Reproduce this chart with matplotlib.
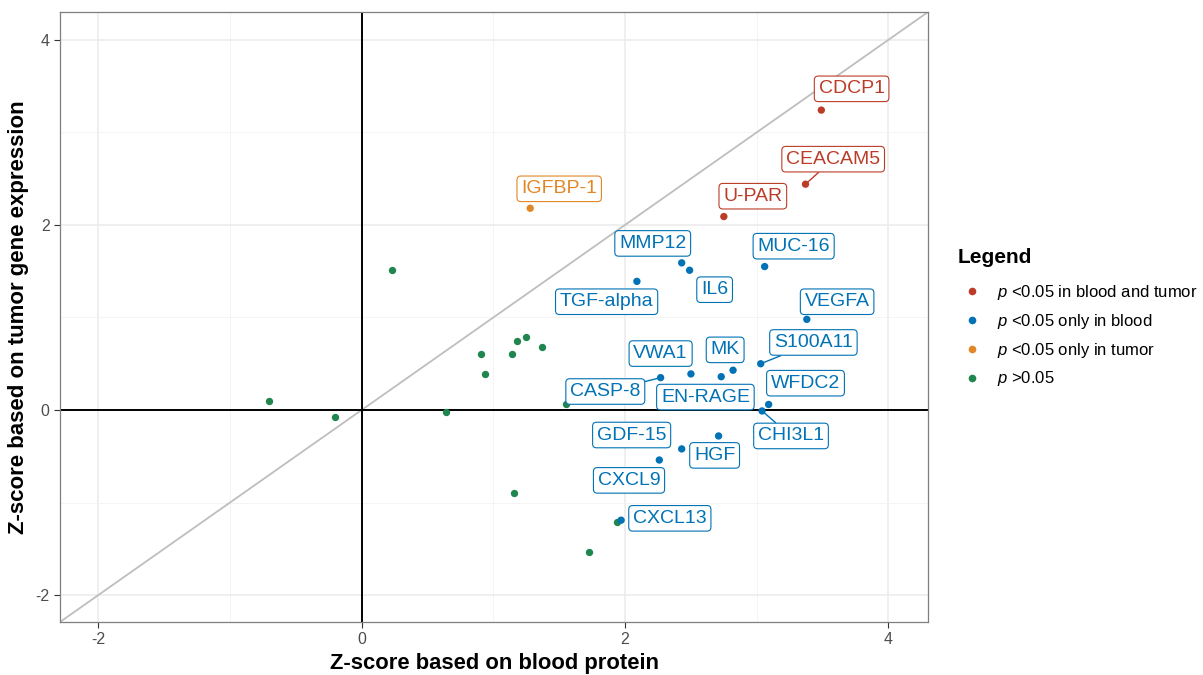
import matplotlib
matplotlib.use("Agg")
import matplotlib.pyplot as plt
from matplotlib.lines import Line2D

plt.rcParams['font.family'] = ['Liberation Sans', 'DejaVu Sans']
plt.rcParams['mathtext.fontset'] = 'custom'
plt.rcParams['mathtext.rm'] = 'Liberation Sans'
plt.rcParams['mathtext.it'] = 'Liberation Sans:italic'
plt.rcParams['axes.unicode_minus'] = False

# proteins with significant hits (blood z-score, tumour z-score)
names = ["CDCP1", "CEACAM5", "U-PAR", "IGFBP-1",
         "MMP12", "IL6", "MUC-16", "TGF-alpha", "VEGFA", "S100A11",
         "CASP-8", "VWA1", "MK", "EN-RAGE", "WFDC2", "CHI3L1",
         "GDF-15", "HGF", "CXCL9", "CXCL13"]
blood = [3.49, 3.37, 2.75, 1.28,
         2.43, 2.49, 3.06, 2.09, 3.38, 3.03,
         2.27, 2.50, 2.82, 2.73, 3.09, 3.04,
         2.43, 2.71, 2.26, 1.97]
tumor = [3.24, 2.44, 2.09, 2.18,
         1.59, 1.51, 1.55, 1.39, 0.98, 0.50,
         0.35, 0.39, 0.43, 0.36, 0.06, -0.01,
         -0.42, -0.28, -0.54, -1.19]
group = ["both", "both", "both", "tumor",
         "blood", "blood", "blood", "blood", "blood", "blood",
         "blood", "blood", "blood", "blood", "blood", "blood",
         "blood", "blood", "blood", "blood"]

# non-significant proteins (unlabelled)
ns_blood = [-0.70, -0.20, 0.23, 0.64, 0.91, 0.94, 1.14, 1.18, 1.25, 1.37,
            1.55, 1.16, 1.73, 1.94]
ns_tumor = [0.10, -0.08, 1.51, -0.02, 0.60, 0.39, 0.60, 0.75, 0.79, 0.68,
            0.06, -0.90, -1.53, -1.21]

colors = {"both": "#BC3C29", "blood": "#0072B5", "tumor": "#E18727", "ns": "#20854E"}
legend_labels = {"both": r"$\it{p}$ <0.05 in blood and tumor",
                 "blood": r"$\it{p}$ <0.05 only in blood",
                 "tumor": r"$\it{p}$ <0.05 only in tumor",
                 "ns": r"$\it{p}$ >0.05"}
order = ["both", "blood", "tumor", "ns"]

# where the repelled labels end up
label_pos = {"CDCP1": (3.72, 3.47), "CEACAM5": (3.58, 2.71), "U-PAR": (2.97, 2.31),
             "IGFBP-1": (1.50, 2.39), "MMP12": (2.21, 1.80), "IL6": (2.68, 1.30),
             "MUC-16": (3.28, 1.77), "TGF-alpha": (1.86, 1.17), "VEGFA": (3.61, 1.17),
             "S100A11": (3.43, 0.73), "VWA1": (2.27, 0.61), "MK": (2.76, 0.65),
             "CASP-8": (1.85, 0.20), "EN-RAGE": (2.61, 0.14), "WFDC2": (3.37, 0.29),
             "CHI3L1": (3.26, -0.28), "GDF-15": (2.05, -0.27), "HGF": (2.68, -0.49),
             "CXCL9": (2.03, -0.76), "CXCL13": (2.34, -1.17)}
with_segment = {"CEACAM5", "S100A11", "CASP-8", "CHI3L1"}

fig = plt.figure(figsize=(12.03, 6.75), dpi=100)
ax = fig.add_axes([60 / 1203, 53 / 675, 868 / 1203, 610 / 675])

lo, hi = -2.29, 4.30
ax.set_xlim(lo, hi)
ax.set_ylim(lo, hi)

ax.set_xticks([-2, 0, 2, 4])
ax.set_yticks([-2, 0, 2, 4])
ax.set_xticks([-1, 1, 3], minor=True)
ax.set_yticks([-1, 1, 3], minor=True)
ax.grid(which="major", color="#EBEBEB", lw=1.1, zorder=0)
ax.grid(which="minor", color="#F3F3F3", lw=0.6, zorder=0)
ax.tick_params(which="major", length=4, width=0.8, color="#333333",
               labelsize=11.5, labelcolor="#4D4D4D")
ax.tick_params(which="minor", length=0)
ax.set_axisbelow(True)
for s in ax.spines.values():
    s.set_color("#7F7F7F")
    s.set_linewidth(0.9)

ax.plot([lo, hi], [lo, hi], color="#BEBEBE", lw=1.3, zorder=1)
ax.axhline(0, color="black", lw=1.4, zorder=1)
ax.axvline(0, color="black", lw=1.4, zorder=1)

ax.scatter(ns_blood, ns_tumor, s=28, color=colors["ns"], lw=0, zorder=3)
ax.scatter(blood, tumor, s=28, color=[colors[g] for g in group], lw=0, zorder=3)

for n, x, y, g in zip(names, blood, tumor, group):
    c = colors[g]
    kw = {}
    if n in with_segment:
        kw["arrowprops"] = dict(arrowstyle="-", color=c, lw=1.0, shrinkA=0, shrinkB=2)
    ax.annotate(n, xy=(x, y), xytext=label_pos[n], textcoords="data",
                ha="center", va="center", fontsize=14, color=c, zorder=4,
                bbox=dict(boxstyle="round,pad=0.22,rounding_size=0.2",
                          fc="white", ec=c, lw=0.8), **kw)

ax.set_xlabel("Z-score based on blood protein", fontsize=15.8, fontweight="bold", labelpad=4)
ax.set_ylabel("Z-score based on tumor gene expression", fontsize=16, fontweight="bold", labelpad=5)

# legend: title as its own text so the gap below it can be set freely
fig.text(958 / 1203, 1 - 263 / 675, "Legend", fontsize=15, fontweight="bold", va="baseline")
handles = [Line2D([], [], ls="", marker="o", ms=5.5, mec="none", mfc=colors[k]) for k in order]
leg = fig.legend(handles, [legend_labels[k] for k in order],
                 loc="upper left", bbox_to_anchor=(946 / 1203, 1 - 268 / 675),
                 frameon=False, fontsize=12,
                 handletextpad=0.85, labelspacing=0.59, handlelength=1.3)

fig.savefig("out.png", dpi=100)
